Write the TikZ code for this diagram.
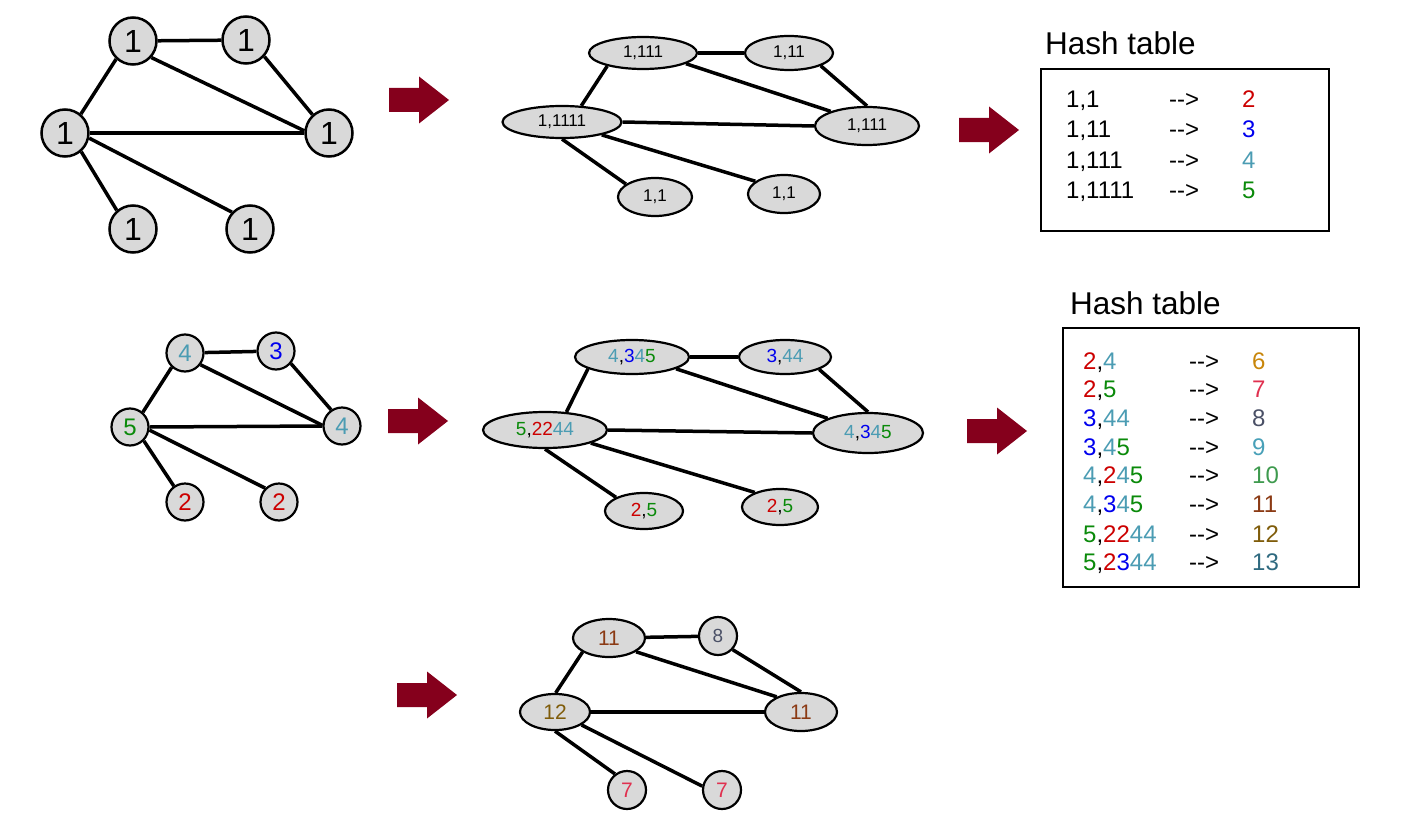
\documentclass[tikz,border=0pt]{standalone}
\usepackage{fontspec}
\setmainfont{Liberation Sans}
\usetikzlibrary{shapes.geometric}
\definecolor{ng}{HTML}{D9D9D9}
\definecolor{arr}{HTML}{85001C}
\definecolor{ca}{HTML}{CC0000}
\definecolor{cb}{HTML}{0000EE}
\definecolor{cc}{HTML}{4B9CB3}
\definecolor{cd}{HTML}{0A8A0A}
\definecolor{ce}{HTML}{C8860A}
\definecolor{cf}{HTML}{E0304F}
\definecolor{cg}{HTML}{4A5066}
\definecolor{ch}{HTML}{48A0B8}
\definecolor{ci}{HTML}{3E9A4E}
\definecolor{cj}{HTML}{8B3A14}
\definecolor{ck}{HTML}{7F5C0A}
\definecolor{cl}{HTML}{2F6A80}
\newcommand\tc[2]{\textcolor{#1}{#2}}
\begin{document}
\begin{tikzpicture}[x=1pt,y=-1pt,
  bigc/.style={circle,draw,line width=2.5pt,fill=ng,inner sep=0pt,minimum size=47pt,font=\fontsize{32}{36}\selectfont},
  midc/.style={circle,draw,line width=2.2pt,fill=ng,inner sep=0pt,minimum size=37pt,font=\fontsize{24}{28}\selectfont},
  smc/.style={circle,draw,line width=2.2pt,fill=ng,inner sep=0pt,minimum size=38pt},
  ell/.style={ellipse,draw,line width=2.2pt,fill=ng,inner sep=0pt},
  ellA/.style={ell,font=\fontsize{17}{20}\selectfont},
  ellB/.style={ell,font=\fontsize{19}{22}\selectfont},
  ellC/.style={ell,font=\fontsize{21}{24}\selectfont},
  edge/.style={line width=3.5pt},
  htext/.style={anchor=base west,inner sep=0pt,font=\fontsize{24}{28}\selectfont},
  htitle/.style={anchor=base west,inner sep=0pt,font=\fontsize{31.5}{36}\selectfont},
  hbox/.style={draw,line width=2pt},
  bigarrow/.pic={\fill[arr] (0,-12) -- (30,-12) -- (30,-23.5) -- (60,0) -- (30,23.5) -- (30,12) -- (0,12) -- cycle;}
]
\useasboundingbox (0,0) rectangle (1407,832);

% ---------- Row 1, left graph
\node[bigc] (a1) at (133,41) {1};
\node[bigc] (a2) at (246,40) {1};
\node[bigc] (a3) at (65,133) {1};
\node[bigc] (a4) at (329,133) {1};
\node[bigc] (a5) at (133,229) {1};
\node[bigc] (a6) at (250,229) {1};
\draw[edge] (a1) -- (a2);
\draw[edge] (a1.227) -- (a3.50);
\draw[edge] (a1.318) -- (a4.175);
\draw[edge] (a2.318) -- (a4.132);
\draw[edge] (a3.east) -- (a4.west);
\draw[edge] (a3.311) -- (a5.131);
\draw[edge] (a3.348) -- (a6.137);

\pic at (389,100) {bigarrow};

% ---------- Row 1, middle graph
\node[ellA,minimum width=108pt,minimum height=32pt] (b1) at (643,53) {1,111};
\node[ellA,minimum width=88pt,minimum height=34pt] (b2) at (789,53) {1,11};
\node[ellA,minimum width=119pt,minimum height=32pt] (b3) at (562,122) {1,1111};
\node[ellA,minimum width=104pt,minimum height=38pt] (b4) at (867,126) {1,111};
\node[ellA,minimum width=74pt,minimum height=38pt] (b5) at (655,197) {1,1};
\node[ellA,minimum width=72pt,minimum height=38pt] (b6) at (784,194) {1,1};
\draw[edge] (b1) -- (b2);
\draw[edge] (b1.200) -- (b3.40);
\draw[edge] (b1.346) -- (b4.158);
\draw[edge] (b2.338) -- (b4.90);
\draw[edge] (b3.east) -- (b4.west);
\draw[edge] (b3.270) -- (b5.156);
\draw[edge] (b3.342) -- (b6.156);

\pic at (959,130) {bigarrow};

% ---------- Hash table 1
\node[htitle] (h1t) at (1045,55) {Hash table};
\draw[hbox] (1041,69) rectangle (1329,231);
\node[htext] (h11a) at (1066,107) {1,1};
\node[htext] (h11b) at (1169,107) {-{}->};
\node[htext] (h11c) at (1242,107) {\tc{ca}{2}};
\node[htext] (h12a) at (1066,138) {1,11};
\node[htext] (h12b) at (1169,138) {-{}->};
\node[htext] (h12c) at (1242,138) {\tc{cb}{3}};
\node[htext] (h13a) at (1066,168) {1,111};
\node[htext] (h13b) at (1169,168) {-{}->};
\node[htext] (h13c) at (1242,168) {\tc{cc}{4}};
\node[htext] (h14a) at (1066,198) {1,1111};
\node[htext] (h14b) at (1169,198) {-{}->};
\node[htext] (h14c) at (1242,198) {\tc{cd}{5}};

% ---------- Row 2, left graph
\node[midc] (c1) at (185,353) {\tc{cc}{4}};
\node[midc] (c2) at (276,351) {\tc{cb}{3}};
\node[midc] (c3) at (130,427) {\tc{cd}{5}};
\node[midc] (c4) at (342,426) {\tc{cc}{4}};
\node[midc] (c5) at (185,502) {\tc{ca}{2}};
\node[midc] (c6) at (279,502) {\tc{ca}{2}};
\draw[edge] (c1) -- (c2);
\draw[edge] (c1.227) -- (c3.49);
\draw[edge] (c1.323) -- (c4.178);
\draw[edge] (c2.320) -- (c4.124);
\draw[edge] (c3.east) -- (c4.west);
\draw[edge] (c3.315) -- (c5.125);
\draw[edge] (c3.351) -- (c6.135);

\pic at (388,421) {bigarrow};

% ---------- Row 2, middle graph
\node[ellB,minimum width=114pt,minimum height=34pt] (d1) at (632,357) {\tc{cc}{4},\tc{cb}{3}\tc{cc}{4}\tc{cd}{5}};
\node[ellB,minimum width=92pt,minimum height=34pt] (d2) at (785,357) {\tc{cb}{3},\tc{cc}{44}};
\node[ellB,minimum width=124pt,minimum height=36pt] (d3) at (545,430) {\tc{cd}{5},\tc{ca}{22}\tc{cc}{44}};
\node[ellB,minimum width=110pt,minimum height=40pt] (d4) at (868,433) {\tc{cc}{4},\tc{cb}{3}\tc{cc}{4}\tc{cd}{5}};
\node[ellB,minimum width=78pt,minimum height=36pt] (d5) at (644,511) {\tc{ca}{2},\tc{cd}{5}};
\node[ellB,minimum width=76pt,minimum height=36pt] (d6) at (780,507) {\tc{ca}{2},\tc{cd}{5}};
\draw[edge] (d1) -- (d2);
\draw[edge] (d1.195) -- (d3.40);
\draw[edge] (d1.345) -- (d4.160);
\draw[edge] (d2.340) -- (d4.90);
\draw[edge] (d3.east) -- (d4.west);
\draw[edge] (d3.270) -- (d5.154);
\draw[edge] (d3.344) -- (d6.150);

\pic at (967,431) {bigarrow};

% ---------- Hash table 2
\node[htitle] (h2t) at (1070,314) {Hash table};
\draw[hbox] (1063,328) rectangle (1359,587);
\node[htext] (r1a) at (1083,369) {\tc{ca}{2},\tc{cc}{4}};
\node[htext] (r1b) at (1189,369) {-{}->};
\node[htext] (r1c) at (1252,369) {\tc{ce}{6}};
\node[htext] (r2a) at (1083,397) {\tc{ca}{2},\tc{cd}{5}};
\node[htext] (r2b) at (1189,397) {-{}->};
\node[htext] (r2c) at (1252,397) {\tc{cf}{7}};
\node[htext] (r3a) at (1083,426) {\tc{cb}{3},\tc{cc}{44}};
\node[htext] (r3b) at (1189,426) {-{}->};
\node[htext] (r3c) at (1252,426) {\tc{cg}{8}};
\node[htext] (r4a) at (1083,455) {\tc{cb}{3},\tc{cc}{4}\tc{cd}{5}};
\node[htext] (r4b) at (1189,455) {-{}->};
\node[htext] (r4c) at (1252,455) {\tc{ch}{9}};
\node[htext] (r5a) at (1083,483) {\tc{cc}{4},\tc{ca}{2}\tc{cc}{4}\tc{cd}{5}};
\node[htext] (r5b) at (1189,483) {-{}->};
\node[htext] (r5c) at (1252,483) {\tc{ci}{10}};
\node[htext] (r6a) at (1083,512) {\tc{cc}{4},\tc{cb}{3}\tc{cc}{4}\tc{cd}{5}};
\node[htext] (r6b) at (1189,512) {-{}->};
\node[htext] (r6c) at (1252,512) {\tc{cj}{11}};
\node[htext] (r7a) at (1083,542) {\tc{cd}{5},\tc{ca}{22}\tc{cc}{44}};
\node[htext] (r7b) at (1189,542) {-{}->};
\node[htext] (r7c) at (1252,542) {\tc{ck}{12}};
\node[htext] (r8a) at (1083,570) {\tc{cd}{5},\tc{ca}{2}\tc{cb}{3}\tc{cc}{44}};
\node[htext] (r8b) at (1189,570) {-{}->};
\node[htext] (r8c) at (1252,570) {\tc{cl}{13}};

% ---------- Row 3
\pic at (397,695) {bigarrow};
\node[ellC,minimum width=72pt,minimum height=38pt] (e1) at (609,638) {\tc{cj}{11}};
\node[smc,font=\fontsize{19}{22}\selectfont] (e2) at (718,636) {\tc{cg}{8}};
\node[ellC,minimum width=70pt,minimum height=36pt] (e3) at (555,712) {\tc{ck}{12}};
\node[ellC,minimum width=72pt,minimum height=38pt] (e4) at (801,712) {\tc{cj}{11}};
\node[smc,font=\fontsize{21}{24}\selectfont] (e5) at (627,790) {\tc{cf}{7}};
\node[smc,font=\fontsize{21}{24}\selectfont] (e6) at (722,790) {\tc{cf}{7}};
\draw[edge] (e1) -- (e2);
\draw[edge] (e1.208) -- (e3.88);
\draw[edge] (e1.333) -- (e4.148);
\draw[edge] (e2.317) -- (e4.90);
\draw[edge] (e3.east) -- (e4.west);
\draw[edge] (e3.270) -- (e5.127);
\draw[edge] (e3.334) -- (e6.169);
\end{tikzpicture}
\end{document}
